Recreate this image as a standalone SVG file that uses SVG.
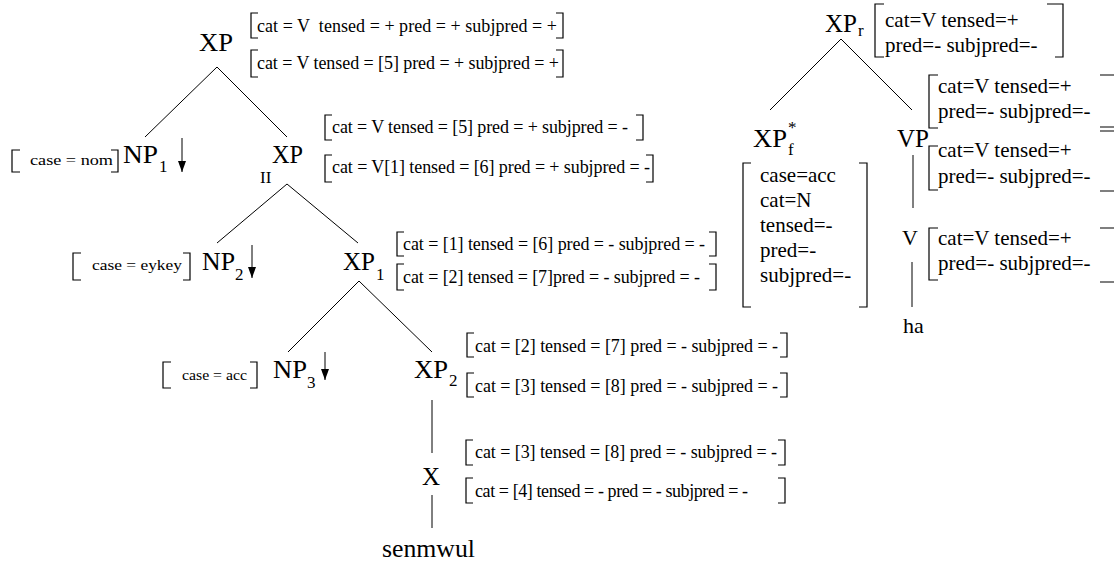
<svg xmlns="http://www.w3.org/2000/svg" width="1114" height="563" viewBox="0 0 1114 563" font-family="'Liberation Serif', 'Times New Roman', 'DejaVu Serif', serif">
<style>
text{font-family:"Liberation Serif","Times New Roman","DejaVu Serif",serif;fill:#000;white-space:pre}
.lab{font-size:25px}
.sub{font-size:17px}
.f{font-size:18px}
.c{font-size:15px}
.r{font-size:21px}
.br{fill:none;stroke:#000;stroke-width:1.2}
.ln{fill:none;stroke:#000;stroke-width:1}
</style>
<defs>
<marker id="ah" viewBox="0 0 10 10" refX="10" refY="5" markerWidth="11" markerHeight="8" markerUnits="userSpaceOnUse" orient="auto" preserveAspectRatio="none">
<path d="M0,0 L10,5 L0,10 Z" fill="#000"/>
</marker>
</defs>
<rect width="1114" height="563" fill="#fff"/>

<g id="connectors">
<path class="ln" d="M217,67 L145,137 M217,67 L287,137"/>
<path class="ln" d="M287,184 L217,243 M287,184 L358,243"/>
<path class="ln" d="M359,281 L288,352 M359,281 L432,352"/>
<path class="ln" d="M432,400 V453 M432,495 V528"/>
<path class="ln" d="M841,39 L770,110 M841,39 L912,110"/>
<path class="ln" d="M913,155 V208 M912,262 V307"/>
<path class="ln" d="M182,138 V172" marker-end="url(#ah)"/>
<path class="ln" d="M252,245 V278" marker-end="url(#ah)"/>
<path class="ln" d="M325,352 V380" marker-end="url(#ah)"/>
</g>

<g id="xp-top">
<text class="lab" x="199" y="51" textLength="34" lengthAdjust="spacingAndGlyphs">XP</text>
<path class="br" d="M258,13 H251 V38 H258 M556,13 H563 V38 H556"/>
<text class="f" x="257" y="32" textLength="300" lengthAdjust="spacing">cat = V  tensed = + pred = + subjpred = +</text>
<path class="br" d="M258,50 H251 V77 H258 M556,50 H563 V77 H556"/>
<text class="f" x="257" y="69" textLength="302" lengthAdjust="spacing">cat = V tensed = [5] pred = + subjpred = +</text>
</g>

<g id="np1">
<path class="br" d="M20,150 H12 V172 H20 M111,150 H118 V172 H111"/>
<text class="c" x="30" y="165" textLength="83" lengthAdjust="spacingAndGlyphs">case = nom</text>
<text class="lab" x="123" y="163" textLength="35" lengthAdjust="spacingAndGlyphs">NP</text>
<text class="sub" x="159" y="172">1</text>
</g>

<g id="xp-ii">
<text class="lab" x="272" y="163" textLength="31" lengthAdjust="spacingAndGlyphs">XP</text>
<text class="sub" x="260" y="183">II</text>
<path class="br" d="M332,115 H325 V140 H332 M636,115 H643 V140 H636"/>
<text class="f" x="332" y="133" textLength="296" lengthAdjust="spacing">cat = V tensed = [5] pred = + subjpred = -</text>
<path class="br" d="M332,155 H325 V182 H332 M646,155 H653 V182 H646"/>
<text class="f" x="332" y="173" textLength="318" lengthAdjust="spacing">cat = V[1] tensed = [6] pred = + subjpred = -</text>
</g>

<g id="np2">
<path class="br" d="M81,253 H73 V280 H81 M183,253 H190 V280 H183"/>
<text class="c" x="92" y="270" textLength="90" lengthAdjust="spacingAndGlyphs">case = eykey</text>
<text class="lab" x="202" y="270" textLength="33" lengthAdjust="spacingAndGlyphs">NP</text>
<text class="sub" x="235" y="280">2</text>
</g>

<g id="xp1">
<text class="lab" x="343" y="270" textLength="32" lengthAdjust="spacingAndGlyphs">XP</text>
<text class="sub" x="376" y="280">1</text>
<path class="br" d="M404,232 H397 V256 H404 M709,232 H716 V256 H709"/>
<text class="f" x="403" y="250" textLength="302" lengthAdjust="spacing">cat = [1] tensed = [6] pred = - subjpred = -</text>
<path class="br" d="M404,264 H397 V290 H404 M709,264 H716 V290 H709"/>
<text class="f" x="403" y="283" textLength="297" lengthAdjust="spacing">cat = [2] tensed = [7]pred = - subjpred = -</text>
</g>

<g id="np3">
<path class="br" d="M171,362 H163 V388 H171 M250,362 H257 V388 H250"/>
<text class="c" x="182" y="380" textLength="65" lengthAdjust="spacingAndGlyphs">case = acc</text>
<text class="lab" x="273" y="378" textLength="34" lengthAdjust="spacingAndGlyphs">NP</text>
<text class="sub" x="307" y="388">3</text>
</g>

<g id="xp2">
<text class="lab" x="414" y="378" textLength="34" lengthAdjust="spacingAndGlyphs">XP</text>
<text class="sub" x="449" y="386">2</text>
<path class="br" d="M474,333 H467 V357 H474 M780,333 H787 V357 H780"/>
<text class="f" x="475" y="352" textLength="303" lengthAdjust="spacing">cat = [2] tensed = [7] pred = - subjpred = -</text>
<path class="br" d="M474,373 H467 V397 H474 M780,373 H787 V397 H780"/>
<text class="f" x="475" y="392" textLength="303" lengthAdjust="spacing">cat = [3] tensed = [8] pred = - subjpred = -</text>
</g>

<g id="x">
<text class="lab" x="422" y="485">X</text>
<path class="br" d="M473,440 H466 V465 H473 M778,440 H785 V465 H778"/>
<text class="f" x="475" y="458" textLength="302" lengthAdjust="spacing">cat = [3] tensed = [8] pred = - subjpred = -</text>
<path class="br" d="M473,478 H466 V503 H473 M778,478 H785 V503 H778"/>
<text class="f" x="475" y="497" textLength="273" lengthAdjust="spacing">cat = [4] tensed = - pred = - subjpred = -</text>
</g>

<g id="senmwul">
<text class="lab" x="382" y="557" textLength="93" lengthAdjust="spacingAndGlyphs">senmwul</text>
</g>

<g id="xp-r">
<text class="lab" x="825" y="32">XP</text>
<text class="sub" x="858" y="36">r</text>
<path class="br" d="M884,4 H875 V57 H884 M1047,4 H1063 V57 H1055"/>
<text class="r" x="885" y="27">cat=V tensed=+</text>
<text class="r" x="885" y="52">pred=- subjpred=-</text>
</g>

<g id="xp-f">
<text class="lab" x="753" y="147" textLength="34" lengthAdjust="spacingAndGlyphs">XP</text>
<text class="sub" x="788" y="133">*</text>
<text class="sub" x="788" y="155">f</text>
<path class="br" d="M751,163 H743 V307 H751 M859,163 H867 V307 H859"/>
<text class="r" x="760" y="182">case=acc</text>
<text class="r" x="760" y="207">cat=N</text>
<text class="r" x="760" y="232">tensed=-</text>
<text class="r" x="760" y="257">pred=-</text>
<text class="r" x="760" y="282">subjpred=-</text>
</g>

<g id="vp">
<text class="lab" x="897" y="147">VP</text>
<path class="br" d="M938,75 H929 V128 H938 M1100,75 H1116 V127 H1100"/>
<text class="r" x="938" y="93">cat=V tensed=+</text>
<text class="r" x="938" y="118">pred=- subjpred=-</text>
<path class="br" d="M938,146 H929 V190 H938 M1100,131 H1116 V191 H1100"/>
<text class="r" x="938" y="157">cat=V tensed=+</text>
<text class="r" x="938" y="183">pred=- subjpred=-</text>
</g>

<g id="v">
<text class="lab" x="902" y="245" style="font-size:22px">V</text>
<path class="br" d="M938,228 H929 V280 H938 M1100,228 H1116 V282 H1100"/>
<text class="r" x="938" y="245">cat=V tensed=+</text>
<text class="r" x="938" y="270">pred=- subjpred=-</text>
</g>

<g id="ha">
<text class="lab" x="903" y="333" style="font-size:22px">ha</text>
</g>
</svg>
